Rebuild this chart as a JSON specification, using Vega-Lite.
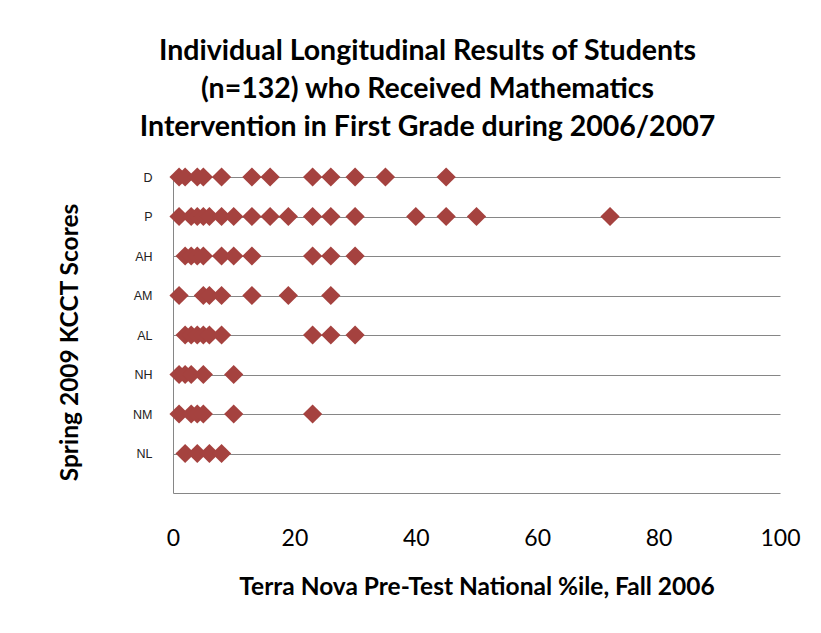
{
  "$schema": "https://vega.github.io/schema/vega-lite/v6.json",
  "width": 607,
  "height": 316,
  "autosize": {"type": "none"},
  "padding": {"left": 173, "top": 177, "right": 41, "bottom": 140},
  "background": "white",
  "title": {
    "text": ["Individual Longitudinal Results of Students", "(n=132) who Received Mathematics", "Intervention in First Grade during 2006/2007"],
    "font": "Lato",
    "fontSize": 28.5,
    "fontWeight": "bold",
    "color": "#000000",
    "lineHeight": 38,
    "anchor": "middle",
    "frame": "group",
    "dx": -49,
    "offset": 26
  },
  "config": {
    "view": {"stroke": null},
    "axis": {"domainColor": "#868686", "gridColor": "#868686", "ticks": false}
  },
  "data": {
    "values": [
      {"score": "D", "pct": 1}, {"score": "D", "pct": 2}, {"score": "D", "pct": 4}, {"score": "D", "pct": 5},
      {"score": "D", "pct": 8}, {"score": "D", "pct": 13}, {"score": "D", "pct": 16}, {"score": "D", "pct": 23},
      {"score": "D", "pct": 26}, {"score": "D", "pct": 30}, {"score": "D", "pct": 35}, {"score": "D", "pct": 45},
      {"score": "P", "pct": 1}, {"score": "P", "pct": 3}, {"score": "P", "pct": 4}, {"score": "P", "pct": 5},
      {"score": "P", "pct": 6}, {"score": "P", "pct": 8}, {"score": "P", "pct": 10}, {"score": "P", "pct": 13},
      {"score": "P", "pct": 16}, {"score": "P", "pct": 19}, {"score": "P", "pct": 23}, {"score": "P", "pct": 26},
      {"score": "P", "pct": 30}, {"score": "P", "pct": 40}, {"score": "P", "pct": 45}, {"score": "P", "pct": 50},
      {"score": "P", "pct": 72},
      {"score": "AH", "pct": 2}, {"score": "AH", "pct": 3}, {"score": "AH", "pct": 4}, {"score": "AH", "pct": 5},
      {"score": "AH", "pct": 8}, {"score": "AH", "pct": 10}, {"score": "AH", "pct": 13}, {"score": "AH", "pct": 23},
      {"score": "AH", "pct": 26}, {"score": "AH", "pct": 30},
      {"score": "AM", "pct": 1}, {"score": "AM", "pct": 5}, {"score": "AM", "pct": 6}, {"score": "AM", "pct": 8},
      {"score": "AM", "pct": 13}, {"score": "AM", "pct": 19}, {"score": "AM", "pct": 26},
      {"score": "AL", "pct": 2}, {"score": "AL", "pct": 3}, {"score": "AL", "pct": 4}, {"score": "AL", "pct": 5},
      {"score": "AL", "pct": 6}, {"score": "AL", "pct": 8}, {"score": "AL", "pct": 23}, {"score": "AL", "pct": 26},
      {"score": "AL", "pct": 30},
      {"score": "NH", "pct": 1}, {"score": "NH", "pct": 2}, {"score": "NH", "pct": 3}, {"score": "NH", "pct": 5},
      {"score": "NH", "pct": 10},
      {"score": "NM", "pct": 1}, {"score": "NM", "pct": 3}, {"score": "NM", "pct": 4}, {"score": "NM", "pct": 5},
      {"score": "NM", "pct": 10}, {"score": "NM", "pct": 23},
      {"score": "NL", "pct": 2}, {"score": "NL", "pct": 4}, {"score": "NL", "pct": 6}, {"score": "NL", "pct": 8}
    ]
  },
  "mark": {"type": "point", "shape": "diamond", "filled": true, "size": 370, "color": "#A5423F", "opacity": 1},
  "encoding": {
    "x": {
      "field": "pct",
      "type": "quantitative",
      "scale": {"domain": [0, 100], "nice": false, "zero": true},
      "axis": {
        "values": [0, 20, 40, 60, 80, 100],
        "grid": false,
        "labelFont": "Lato",
        "labelFontSize": 23,
        "labelColor": "#000000",
        "labelPadding": 34,
        "labelFlush": false,
        "title": "Terra Nova Pre-Test National %ile, Fall 2006",
        "titleFont": "Lato",
        "titleFontSize": 24.5,
        "titleFontWeight": "bold",
        "titleColor": "#000000",
        "titlePadding": 25
      }
    },
    "y": {
      "field": "score",
      "type": "ordinal",
      "sort": ["D", "P", "AH", "AM", "AL", "NH", "NM", "NL"],
      "scale": {"type": "point", "padding": 0.5, "align": 0},
      "axis": {
        "grid": true,
        "labelFont": "Liberation Sans",
        "labelFontSize": 12.5,
        "labelColor": "#222222",
        "labelPadding": 21,
        "title": "Spring 2009 KCCT Scores",
        "titleFont": "Lato",
        "titleFontSize": 24.5,
        "titleFontWeight": "bold",
        "titleColor": "#000000",
        "titlePadding": 50,
        "titleY": 165
      }
    }
  }
}
